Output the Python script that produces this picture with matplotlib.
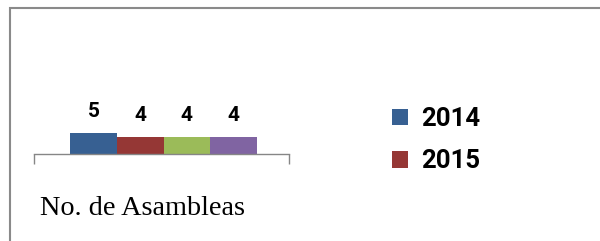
import matplotlib
matplotlib.use("Agg")
import matplotlib.pyplot as plt
from matplotlib.patches import Rectangle

categories = ["No. de Asambleas"]
series_names = ["2014", "2015", "2016", "2017"]
values = [5, 4, 4, 4]
colors = ["#376092", "#953735", "#9BBB59", "#8064A2"]

W, H = 600, 241
fig = plt.figure(figsize=(6, 2.41), dpi=100)

def fx(px):
    return px / W

def fy(py):
    return (H - py) / H

# outer chart border (cropped on right/bottom)
fig.patches.append(Rectangle((fx(10), fy(300)), 1.2, fy(8) - fy(300),
                             transform=fig.transFigure, fill=False,
                             edgecolor="#8a8a8a", linewidth=1.5))

ax_left, ax_right = 34, 289
ax_base, ax_top = 154, 30
ax = fig.add_axes([fx(ax_left), fy(ax_base), fx(ax_right - ax_left), fy(ax_top) - fy(ax_base)])

bw = 0.183
handles = []
for i, (name, v, c) in enumerate(zip(series_names, values, colors)):
    x = (i - 1.5) * bw + 0.008
    b = ax.bar([x], [v], width=bw, color=c, label=name)
    handles.append(b)
    ax.annotate(str(v), (x, v), xytext=(0, 11.5), textcoords="offset points",
                ha="center", va="baseline", fontsize=15, fontweight="bold",
                family="Roboto", color="black")

ax.set_xlim(-0.5, 0.5)
ax.set_ylim(0, (ax_base - ax_top) / 4.2)
for s in ["top", "left", "right"]:
    ax.spines[s].set_visible(False)
ax.spines["bottom"].set_color("#868686")
ax.spines["bottom"].set_linewidth(1.0)
ax.set_yticks([])
ax.set_xticks([-0.5, 0.5])
ax.set_xticklabels([])
ax.tick_params(axis="x", direction="out", length=7.2, width=1.0, color="#868686")

fig.text(fx(143), fy(215), categories[0], ha="center", va="baseline",
         fontsize=20.3, family="Liberation Serif", color="black")

leg = fig.legend(handles=handles[:2], labels=series_names[:2],
                 loc="upper left", bbox_to_anchor=(fx(392), fy(107)),
                 frameon=False, prop={"family": "Roboto", "weight": "bold", "size": 18.5},
                 handlelength=0.62, handleheight=0.62, handletextpad=0.5,
                 labelspacing=0.72, borderpad=0, borderaxespad=0)

fig.savefig("out.png", dpi=100)
